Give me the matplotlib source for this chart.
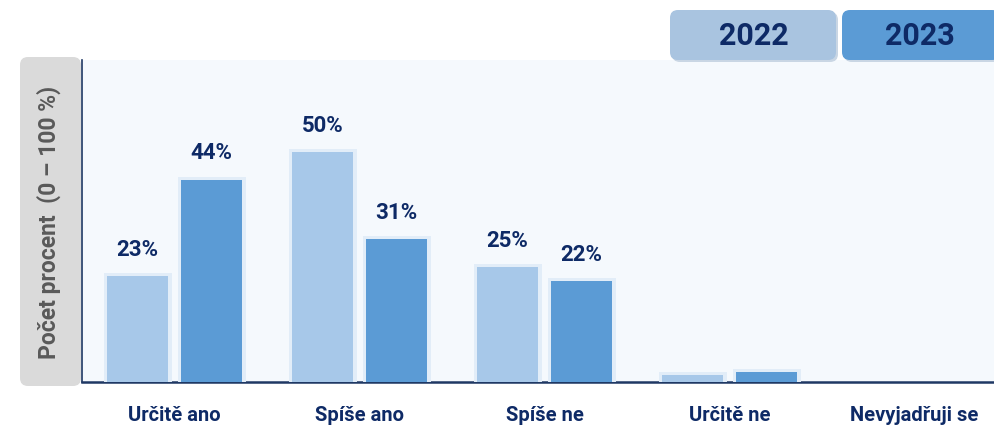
import matplotlib
matplotlib.use("Agg")
import matplotlib.pyplot as plt
import numpy as np
from matplotlib.patches import FancyBboxPatch
import matplotlib.patheffects as pe

categories = ["Určitě ano", "Spíše ano", "Spíše ne", "Určitě ne", "Nevyjadřuji se"]
series_names = ["2022", "2023"]
values_2022 = [23, 50, 25, 1.6, 0]
values_2023 = [44, 31, 22, 2.2, 0]
labels_2022 = ["23%", "50%", "25%", "", ""]
labels_2023 = ["44%", "31%", "22%", "", ""]
ylabel = "Počet procent  (0 – 100 %)"

c2022 = "#A7C8E9"
c2023 = "#5B9BD5"
navy = "#0E2A66"
FONT = "Roboto"

W, H = 995, 426
fig = plt.figure(figsize=(W / 100, H / 100), dpi=100)
fig.patch.set_facecolor("white")

def fx(px):
    return px / W

def fy(py):
    return 1 - py / H

# y-label grey box
box = FancyBboxPatch((fx(20), fy(386)), fx(61), fy(57) - fy(386),
                     boxstyle="round,pad=0,rounding_size=0.008",
                     transform=fig.transFigure, facecolor="#DADADA",
                     edgecolor="none", zorder=0, mutation_aspect=W / H)
fig.patches.append(box)
fig.text(fx(49), fy(222), ylabel, rotation=90, ha="center", va="center",
         fontsize=16.5, fontweight="bold", color="#595959", family=FONT)

ax = fig.add_axes([fx(82), fy(382), fx(995) - fx(82), fy(60) - fy(382)])
ax.set_facecolor("#F5F9FD")
x = np.arange(len(categories))
bw = 0.335
off = 0.2
glow = [pe.Stroke(linewidth=5, foreground="#E2EDF8"), pe.Normal()]
b1 = ax.bar(x - off, values_2022, bw, color=c2022, zorder=3)
b2 = ax.bar(x + off, values_2023, bw, color=c2023, zorder=3)
for b in list(b1) + list(b2):
    if b.get_height() > 0:
        b.set_path_effects(glow)

for bars, labs in ((b1, labels_2022), (b2, labels_2023)):
    for b, lab in zip(bars, labs):
        if lab:
            ax.annotate(lab, (b.get_x() + b.get_width() / 2, b.get_height()),
                        xytext=(0, 11), textcoords="offset points",
                        ha="center", va="bottom", fontsize=16,
                        fontweight="bold", color=navy, family=FONT)

ax.set_xlim(-0.5, (995 - 82) / 185 - 0.5)
ax.set_ylim(0, 70)
ax.set_yticks([])
ax.set_xticks(x)
ax.set_xticklabels(categories, fontsize=14.5, fontweight="bold",
                   color=navy, family=FONT)
ax.tick_params(axis="x", length=0, pad=17)
for s in ("top", "right"):
    ax.spines[s].set_visible(False)
ax.spines["bottom"].set_color("#1F3864")
ax.spines["bottom"].set_linewidth(1.8)
ax.spines["left"].set_color("#1F3864")
ax.spines["left"].set_linewidth(1.2)
ax.spines["left"].set_zorder(5)

# legend tabs
for name, col, x0, x1 in (("2022", "#A9C4E0", 670, 836), ("2023", c2023, 842, 1000)):
    sh = FancyBboxPatch((fx(x0 + 2), fy(62)), fx(x1 - x0), fy(12) - fy(62),
                        boxstyle="round,pad=0,rounding_size=0.008",
                        transform=fig.transFigure, facecolor="#C9D6E4",
                        edgecolor="none", zorder=1, mutation_aspect=W / H)
    fig.patches.append(sh)
    p = FancyBboxPatch((fx(x0), fy(60)), fx(x1 - x0), fy(10) - fy(60),
                       boxstyle="round,pad=0,rounding_size=0.008",
                       transform=fig.transFigure, facecolor=col,
                       edgecolor="none", zorder=2, mutation_aspect=W / H)
    fig.patches.append(p)
    fig.text(fx((x0 + min(x1, 995)) / 2 + 1), fy(36), name, ha="center", va="center",
             fontsize=22, fontweight="bold", color=navy, family=FONT, zorder=3)

fig.savefig("out.png", dpi=100, facecolor="white")
